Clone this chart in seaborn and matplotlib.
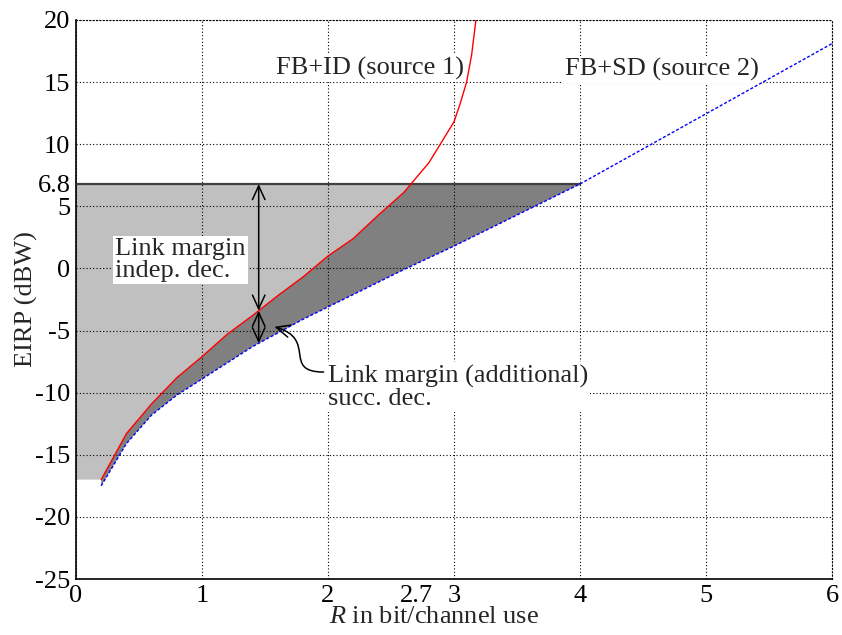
import numpy as np
import matplotlib
matplotlib.use("Agg")
import matplotlib.pyplot as plt
import seaborn as sns
from matplotlib.path import Path
from matplotlib.patches import FancyArrowPatch

# Rate R (bit/channel use) and required EIRP (dBW)
rate_id = [0.2, 0.4, 0.6, 0.8, 1.0, 1.2, 1.4, 1.6, 1.8, 2.0, 2.2, 2.4, 2.6,
           2.8, 3.0, 3.05, 3.1, 3.14, 3.18]
eirp_id = [-17.0, -13.3, -10.9, -8.8, -7.1, -5.3, -3.8, -2.2, -0.7, 1.0, 2.4,
           4.3, 6.1, 8.5, 11.8, 13.3, 15.0, 17.2, 20.5]

rate_sd = [0.2, 0.4, 0.6, 0.8, 1.0, 1.2, 1.4, 1.6, 1.8, 2.0, 2.2, 2.4, 2.6,
           2.8, 3.0, 3.5, 4.0, 5.0, 6.0]
eirp_sd = [-17.5, -14.1, -11.8, -10.2, -8.9, -7.6, -6.3, -5.2, -4.1, -3.1,
           -2.1, -1.1, -0.1, 0.85, 1.8, 4.3, 6.8, 12.45, 18.1]

eirp_level = 6.8        # available EIRP
rate_marker = 1.45      # where the margins are shown
x_ticks = [0, 1, 2, 3, 4, 5, 6]
y_ticks = [-25, -20, -15, -10, -5, 0, 5, 10, 15, 20]
x_extra_tick = 2.7
y_extra_tick = 6.8

sns.set_style("white")
plt.rcParams["font.family"] = ["Liberation Serif", "DejaVu Serif"]
plt.rcParams["mathtext.fontset"] = "custom"
plt.rcParams["mathtext.rm"] = "Liberation Serif"
plt.rcParams["mathtext.it"] = "Liberation Serif:italic"
plt.rcParams["axes.unicode_minus"] = False

FS = 19

fig = plt.figure(figsize=(8.42, 6.35), dpi=100)
ax = fig.add_axes([76 / 842, 1 - 579 / 635, 756 / 842, 559 / 635])

r1 = np.array(rate_id)
e1 = np.array(eirp_id)
r2 = np.array(rate_sd)
e2 = np.array(eirp_sd)

r_cross = np.interp(eirp_level, e1, r1)
r_end = np.interp(eirp_level, e2, r2)
below = e1 < eirp_level

# light region: margin with independent decoding
lx = [0, 0, r1[0]] + list(r1[below]) + [r_cross]
ly = [eirp_level, e1[0], e1[0]] + list(e1[below]) + [eirp_level]
ax.fill(lx, ly, color="#c0c0c0", lw=0, zorder=1)

# dark region: additional margin with successive decoding
keep = r2 <= r_end
dx = list(r1[below]) + [r_cross, r_end] + list(r2[keep][::-1])
dy = list(e1[below]) + [eirp_level, eirp_level] + list(e2[keep][::-1])
ax.fill(dx, dy, color="#808080", lw=0, zorder=1)

ax.plot([0, r_end], [eirp_level, eirp_level], color="#404040", lw=1.6, zorder=3)

sns.lineplot(x=r1, y=e1, color="red", lw=1.0, ax=ax, zorder=4)
sns.lineplot(x=r2, y=e2, color="blue", lw=1.0, linestyle=(0, (2.2, 1.4)),
             ax=ax, zorder=4)

ax.set_xlim(0, 6)
ax.set_ylim(-25, 20)
ax.set_xticks(x_ticks)
ax.set_xticklabels([str(v) for v in x_ticks])
ax.set_yticks(y_ticks)
ax.set_yticklabels([str(v) for v in y_ticks])
ax.set_xticks([x_extra_tick], minor=True)
ax.set_xticklabels([str(x_extra_tick)], minor=True)
ax.set_yticks([y_extra_tick], minor=True)
ax.set_yticklabels([str(y_extra_tick)], minor=True)

ax.set_axisbelow(False)
ax.grid(True, which="major", color="black", linestyle=(0, (1, 2)), lw=0.8)
ax.tick_params(which="both", direction="in", length=5, width=1,
               labelsize=FS, top=False, right=False, pad=4, colors="black")

for side in ("left", "bottom"):
    ax.spines[side].set_color("black")
    ax.spines[side].set_linewidth(1.2)
for side in ("top", "right"):
    ax.spines[side].set_color("black")
    ax.spines[side].set_linewidth(0.8)
    ax.spines[side].set_linestyle((0, (1, 2)))

ax.set_xlabel("$R$ in bit/channel use", fontsize=FS)
ax.xaxis.set_label_coords(0.474, -0.048)
ax.set_ylabel("EIRP (dBW)", fontsize=FS)
ax.yaxis.set_label_coords(-0.05, 0.5)

box = dict(boxstyle="square,pad=0.08", fc="white", ec="none")
ax.text(1.59, 16.1, "FB+ID (source 1)", fontsize=FS, ha="left", va="center",
        bbox=box, zorder=3)
ax.text(3.88, 16.0, "FB+SD (source 2)", fontsize=FS, ha="left", va="center",
        bbox=box, zorder=3)
ax.text(0.31, 0.68, "Link margin\nindep. dec.", fontsize=FS, ha="left",
        va="center", linespacing=1.0, bbox=box, zorder=3)
ax.text(2.0, -9.55, "Link margin (additional)\nsucc. dec.", fontsize=FS,
        ha="left", va="center", linespacing=1.0, bbox=box, zorder=3)

# double arrows for the two margins
e_id_m = np.interp(rate_marker, r1, e1)
e_sd_m = np.interp(rate_marker, r2, e2)
arrow_kw = dict(arrowstyle="<->,head_length=0.55,head_width=0.25",
                color="black", lw=1.1, shrinkA=0, shrinkB=0, mutation_scale=18)
ax.annotate("", xy=(rate_marker, eirp_level), xytext=(rate_marker, e_id_m),
            arrowprops=arrow_kw, zorder=5)
ax.annotate("", xy=(rate_marker, e_id_m), xytext=(rate_marker, e_sd_m),
            arrowprops=arrow_kw, zorder=5)

# curved pointer from the label to the dark region
curve = Path([(1.965, -8.34), (1.63, -8.34), (1.92, -5.70), (1.575, -4.70)],
             [Path.MOVETO, Path.CURVE4, Path.CURVE4, Path.CURVE4])
ax.add_patch(FancyArrowPatch(path=curve, transform=ax.transData,
                             arrowstyle="->,head_length=0.55,head_width=0.25",
                             mutation_scale=18, color="black", lw=1.1,
                             zorder=5))

fig.savefig("out.png", dpi=100)
